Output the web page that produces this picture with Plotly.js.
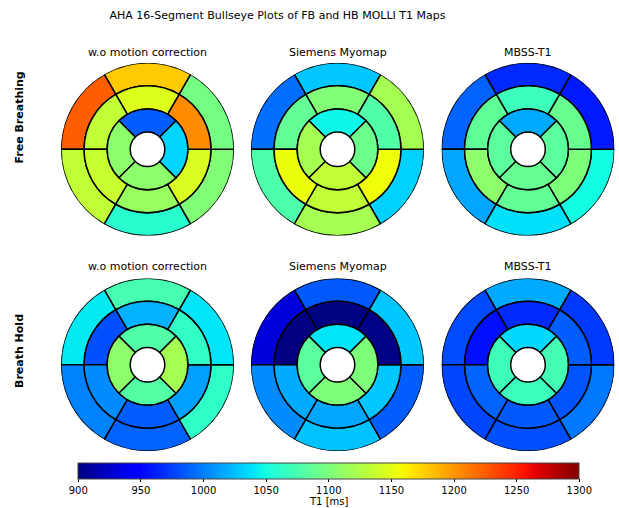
<!DOCTYPE html>
<html><head><meta charset="utf-8">
<script src="https://cdn.plot.ly/plotly-3.0.1.min.js"></script>
<style>html,body{margin:0;padding:0;background:#fff;}</style>
</head><body>
<div id="chart" style="width:619px;height:508px;"></div>
<script>
// ---------- data (AHA order: basal 1-6, mid 7-12, apical 13-16) ----------
const methods = ["w.o motion correction", "Siemens Myomap", "MBSS-T1"];
const acquisitions = ["Free Breathing", "Breath Hold"];
const segmentNames = ["basal anterior","basal anteroseptal","basal inferoseptal","basal inferior","basal inferolateral","basal anterolateral",
  "mid anterior","mid anteroseptal","mid inferoseptal","mid inferior","mid inferolateral","mid anterolateral",
  "apical anterior","apical septal","apical inferior","apical lateral"];
const fbWithoutMoco = [1178,1224,1133,1059,1102,1096, 1147,1133,1137,1113,1145,1205, 987,1108,1108,1034];
const fbMyomap      = [1028,993,1077,1120,1032,1120, 1102,1088,1154,1133,1156,1079, 1047,1120,1133,1093];
const fbMbss        = [966,989,1015,1038,1049,960, 1069,1086,1108,1088,1100,1090, 1017,1084,1089,1084];
const hbWithoutMoco = [1074,1042,1001,989,1062,1040, 1020,981,1005,986,1013,1064, 1079,1108,1080,1120];
const hbMyomap      = [985,932,1005,1026,987,1028, 901,900,1017,1015,1028,902, 1040,1084,1101,1101];
const hbMbss        = [1017,979,977,981,997,972, 966,956,989,985,983,987, 1035,1070,1069,1073];
const colorTicks = [900,950,1000,1050,1100,1150,1200,1250,1300];
const tMin = 900, tMax = 1300;

// ---------- matplotlib "jet" colormap ----------
function interp(xs, ys, v){ for(let i=1;i<xs.length;i++){ if(v<=xs[i]){ const t=(v-xs[i-1])/(xs[i]-xs[i-1]); return ys[i-1]+t*(ys[i]-ys[i-1]); } } return ys[ys.length-1]; }
function jet(v){
  const r = interp([0,0.35,0.66,0.89,1],[0,0,1,1,0.5],v);
  const g = interp([0,0.125,0.375,0.64,0.91,1],[0,0,1,1,0,0],v);
  const b = interp([0,0.11,0.34,0.65,1],[0.5,1,1,0,0],v);
  return `rgb(${Math.round(r*255)},${Math.round(g*255)},${Math.round(b*255)})`;
}
const stops = [0,0.11,0.125,0.34,0.35,0.375,0.64,0.65,0.66,0.89,0.91,1];
const jetScale = stops.map(s => [s, jet(s)]);

// ---------- segment geometry ----------
const radii = [0.2, 0.2+0.8/3, 0.2+1.6/3, 1.0];
const geom = [];
for (let i=0;i<6;i++) geom.push({theta:90+60*i, width:60, base:radii[2]});
for (let i=0;i<6;i++) geom.push({theta:90+60*i, width:60, base:radii[1]});
for (let i=0;i<4;i++) geom.push({theta:90+90*i, width:90, base:radii[0]});
const thick = radii[1]-radii[0];

const panels = [
  {vals: fbWithoutMoco, title: methods[0], cx:147.5, cy:149.3},
  {vals: fbMyomap,      title: methods[1], cx:337.5, cy:149.3},
  {vals: fbMbss,        title: methods[2], cx:528.0, cy:149.3},
  {vals: hbWithoutMoco, title: methods[0], cx:147.5, cy:364.7},
  {vals: hbMyomap,      title: methods[1], cx:337.5, cy:364.7},
  {vals: hbMbss,        title: methods[2], cx:528.0, cy:364.7},
];
const W=619, H=508, R=86.5;
const traces=[]; const layout = {
  width:W, height:H, margin:{l:0,r:0,t:0,b:0}, paper_bgcolor:'#fff', showlegend:false,
  font:{family:'DejaVu Sans', size:10, color:'#000'},
  title:{text:'AHA 16-Segment Bullseye Plots of FB and HB MOLLI T1 Maps', x:277.5/W, xanchor:'center', y:1-15/H, yanchor:'middle', font:{size:11, family:'DejaVu Sans', color:'#000'}},
  coloraxis:{colorscale:jetScale, cmin:tMin, cmax:tMax,
    colorbar:{orientation:'h', x:78.3/W, xanchor:'left', len:501/W, lenmode:'fraction', y:1-463.3/H, yanchor:'top',
      thickness:16, thicknessmode:'pixels', xpad:0, ypad:0, outlinewidth:1, outlinecolor:'#444',
      tickvals:colorTicks, ticktext:colorTicks.map(String), ticks:'outside', ticklen:3, tickcolor:'#000',
      tickfont:{family:'DejaVu Sans', size:10, color:'#000'}}},
  annotations:[]
};
panels.forEach((p,k)=>{
  const id = k===0 ? 'polar' : 'polar'+(k+1);
  traces.push({type:'barpolar', subplot:id,
    theta: geom.map(g=>g.theta), width: geom.map(g=>g.width), base: geom.map(g=>g.base), r: geom.map(()=>thick),
    text: segmentNames, hoverinfo:'text',
    marker:{color:p.vals, coloraxis:'coloraxis', line:{color:'#000', width:1.5}}});
  layout[id] = {
    domain:{x:[(p.cx-R)/W,(p.cx+R)/W], y:[1-(p.cy+R)/H, 1-(p.cy-R)/H]},
    bgcolor:'rgba(0,0,0,0)', bargap:0,
    radialaxis:{visible:false, range:[0,1]},
    angularaxis:{visible:false, rotation:0, direction:'counterclockwise'}
  };
  layout.annotations.push({text:p.title, xref:'paper', yref:'paper', x:p.cx/W, y:1-(k<3?52:266.7)/H, xanchor:'center', yanchor:'middle', showarrow:false, font:{size:11, family:'DejaVu Sans', color:'#000'}});
});
layout.annotations.push({text:'<b>'+acquisitions[0]+'</b>', xref:'paper', yref:'paper', x:19/W, y:1-117.5/H, xanchor:'center', yanchor:'middle', textangle:-90, showarrow:false, font:{size:11, family:'DejaVu Sans', color:'#000'}});
layout.annotations.push({text:'<b>'+acquisitions[1]+'</b>', xref:'paper', yref:'paper', x:19/W, y:1-351/H, xanchor:'center', yanchor:'middle', textangle:-90, showarrow:false, font:{size:11, family:'DejaVu Sans', color:'#000'}});
layout.annotations.push({text:'T1 [ms]', xref:'paper', yref:'paper', x:329/W, y:1-501/H, xanchor:'center', yanchor:'middle', showarrow:false, font:{size:10, family:'DejaVu Sans', color:'#000'}});
Plotly.newPlot('chart', traces, layout, {staticPlot:true, displayModeBar:false});
</script>
</body></html>
